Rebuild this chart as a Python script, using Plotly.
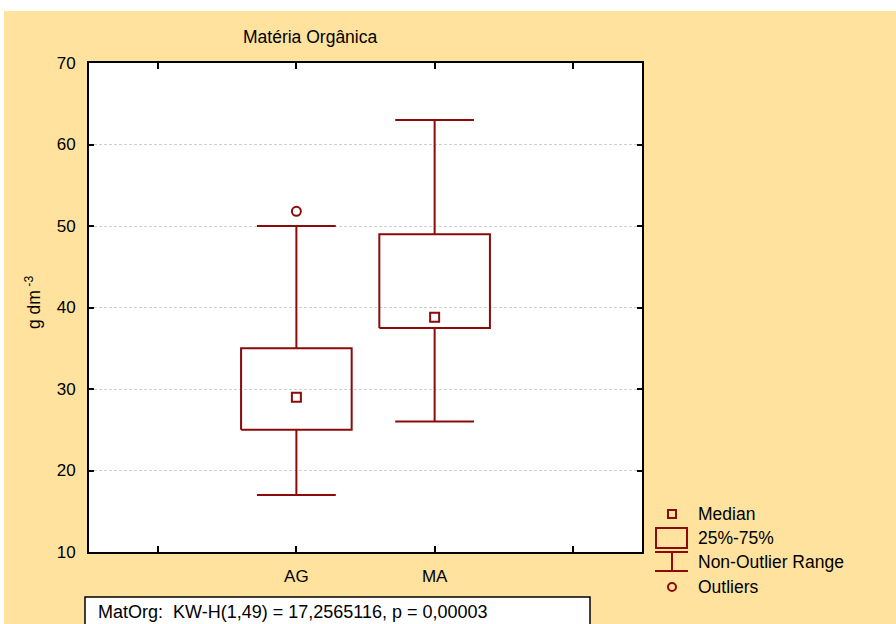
import plotly.graph_objects as go

# ---- data ----
groups = ["AG", "MA"]
positions = [1, 2]
lower_whisker = [17.0, 26.0]
q1 = [25.0, 37.5]
median = [29.0, 38.8]
q3 = [35.0, 49.0]
upper_whisker = [50.0, 63.0]
outlier_x = [1]
outlier_y = [51.8]
x_tick_vals = [0, 1, 2, 3]
x_tick_text = ["", "AG", "MA", ""]
y_tick_vals = [10, 20, 30, 40, 50, 60, 70]

RED = "#8B0A0A"
BG = "#FFE29E"
FONT = "Liberation Sans, Arial, sans-serif"
W, H = 896, 624
L, R, T, B = 89, 642, 63, 552
BOX_HALF = 0.4
CAP_HALF = 0.285

def px(x):
    return (x - L) / (R - L)

def py(y):
    return (B - y) / (B - T)

fig = go.Figure()

bx, by = [], []
wx, wy = [], []
for p, lo, a, b, hi in zip(positions, lower_whisker, q1, q3, upper_whisker):
    bx += [p - BOX_HALF, p + BOX_HALF, p + BOX_HALF, p - BOX_HALF, p - BOX_HALF, None]
    by += [a, a, b, b, a, None]
    wx += [p, p, None, p, p, None,
           p - CAP_HALF, p + CAP_HALF, None, p - CAP_HALF, p + CAP_HALF, None]
    wy += [b, hi, None, a, lo, None, hi, hi, None, lo, lo, None]

fig.add_trace(go.Scatter(x=wx, y=wy, mode="lines", line=dict(color=RED, width=2),
                         showlegend=False, hoverinfo="skip"))
fig.add_trace(go.Scatter(x=bx, y=by, mode="lines", line=dict(color=RED, width=2),
                         showlegend=False, hoverinfo="skip"))
fig.add_trace(go.Scatter(x=positions, y=median, mode="markers",
                         marker=dict(symbol="square-open", size=9, color=RED,
                                     line=dict(width=2, color=RED)),
                         showlegend=False))
fig.add_trace(go.Scatter(x=outlier_x, y=outlier_y, mode="markers",
                         marker=dict(symbol="circle-open", size=9, color=RED,
                                     line=dict(width=2, color=RED)),
                         showlegend=False))

shapes = []
shapes.append(dict(type="rect", xref="paper", yref="paper", x0=px(0), x1=px(W), y0=py(11), y1=py(0),
                   fillcolor="white", line=dict(width=0), layer="above"))
shapes.append(dict(type="rect", xref="paper", yref="paper", x0=px(0), x1=px(4), y0=py(H), y1=py(0),
                   fillcolor="white", line=dict(width=0), layer="above"))
shapes.append(dict(type="rect", xref="paper", yref="paper", x0=px(668), x1=px(676), y0=py(518), y1=py(510),
                   line=dict(color=RED, width=2)))
shapes.append(dict(type="rect", xref="paper", yref="paper", x0=px(656), x1=px(687), y0=py(548), y1=py(528),
                   line=dict(color=RED, width=2)))
shapes.append(dict(type="line", xref="paper", yref="paper", x0=px(655), x1=px(688), y0=py(552), y1=py(552),
                   line=dict(color=RED, width=2)))
shapes.append(dict(type="line", xref="paper", yref="paper", x0=px(672), x1=px(672), y0=py(552), y1=py(571),
                   line=dict(color=RED, width=2)))
shapes.append(dict(type="line", xref="paper", yref="paper", x0=px(655), x1=px(688), y0=py(571), y1=py(571),
                   line=dict(color=RED, width=2)))
shapes.append(dict(type="circle", xref="paper", yref="paper", x0=px(668), x1=px(676), y0=py(591), y1=py(583),
                   line=dict(color=RED, width=2)))
shapes.append(dict(type="rect", xref="paper", yref="paper", x0=px(85), x1=px(590), y0=py(632), y1=py(597),
                   fillcolor="white", line=dict(color="black", width=1.5)))

annotations = [
    dict(text="Matéria Orgânica", x=px(310), y=py(37), xref="paper", yref="paper",
         showarrow=False, xanchor="center", yanchor="middle", font=dict(size=17.5, color="black", family=FONT)),
    dict(text="g dm<sup> -3</sup>", x=px(33), y=py(303), xref="paper", yref="paper", textangle=-90,
         showarrow=False, xanchor="center", yanchor="middle", font=dict(size=17.5, color="black", family=FONT)),
    dict(text="MatOrg:  KW-H(1,49) = 17,2565116, p = 0,00003", x=px(96), y=py(612), xref="paper", yref="paper",
         showarrow=False, xanchor="left", yanchor="middle", font=dict(size=18, color="black", family=FONT)),
]
for label, yy in [("Median", 514), ("25%-75%", 538), ("Non-Outlier Range", 562), ("Outliers", 587)]:
    annotations.append(dict(text=label, x=px(696), y=py(yy), xref="paper", yref="paper",
                            showarrow=False, xanchor="left", yanchor="middle",
                            font=dict(size=17.5, color="black", family=FONT)))

fig.update_layout(
    width=W, height=H,
    margin=dict(l=L, r=W - R, t=T, b=H - B, pad=0),
    paper_bgcolor=BG, plot_bgcolor="white",
    font=dict(family=FONT, size=17, color="black"),
    shapes=shapes, annotations=annotations, showlegend=False,
    xaxis=dict(range=[-0.5, 3.5], tickvals=x_tick_vals, ticktext=x_tick_text,
               ticks="inside", ticklen=6, tickwidth=1.5, tickcolor="black",
               showline=True, linecolor="black", linewidth=2, mirror="ticks",
               showgrid=False, zeroline=False, fixedrange=True, tickfont=dict(size=17),
               ticklabelstandoff=8),
    yaxis=dict(range=[10, 70], tickvals=y_tick_vals,
               ticks="inside", ticklen=5, tickwidth=1.5, tickcolor="black",
               showline=True, linecolor="black", linewidth=2, mirror="ticks",
               showgrid=True, gridcolor="#cfcfcf", griddash="3px,2px", gridwidth=1,
               zeroline=False, fixedrange=True, tickfont=dict(size=17),
               ticklabelstandoff=8),
)

fig.write_html("out.html")
